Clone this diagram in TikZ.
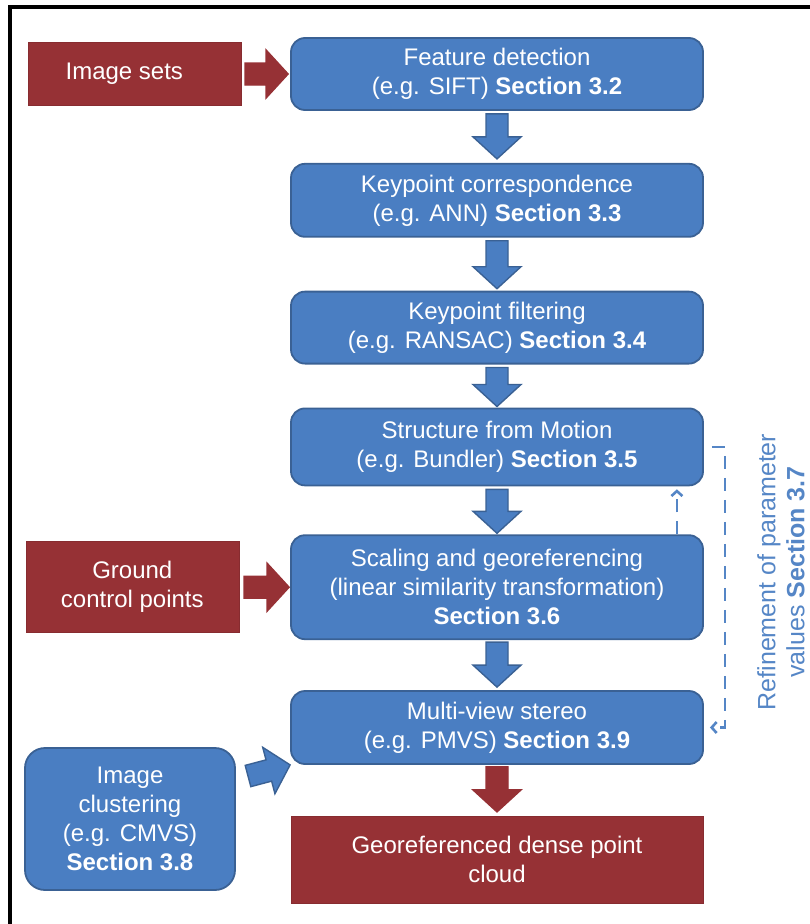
\documentclass[tikz,border=0pt]{standalone}
\usepackage{fontspec}
\setmainfont{Liberation Sans}
\usetikzlibrary{arrows.meta, positioning, calc}
\definecolor{stepblue}{HTML}{4A7EC2}
\definecolor{stepedge}{HTML}{3A6194}
\definecolor{datared}{HTML}{963135}
\definecolor{refineblue}{HTML}{5586C6}
\tikzset{
  stepbox/.style={rectangle, rounded corners=14pt, draw=stepedge, fill=stepblue,
                  line width=1.8pt, text=white, align=center, inner sep=0pt,
                  minimum width=412pt},
  databox/.style={rectangle, draw=datared!90!black, fill=datared, line width=0.6pt,
                  text=white, align=center, inner sep=0pt},
  fatarr/.style={fill=#1, draw=#1!70!black, line width=1.4pt, line join=miter,
    to path={let \p1=(\tikztostart), \p2=(\tikztotarget),
                 \p3=($(\p2)!22pt!(\p1)$) in
      ($(\p1)!11pt!90:(\p2)$) -- ($(\p3)!11pt!-90:(\p1)$)
      -- ($(\p3)!24pt!-90:(\p1)$) -- (\p2) -- ($(\p3)!24pt!90:(\p1)$)
      -- ($(\p3)!11pt!90:(\p1)$) -- ($(\p1)!11pt!-90:(\p2)$) -- cycle}},
  bluearr/.style={fatarr=stepblue, draw=stepedge},
  redarr/.style={fatarr=datared, draw=datared},
  refineline/.style={draw=refineblue, line width=2.6pt, dash pattern=on 13pt off 9pt,
                     -{Straight Barb[length=5pt, width=11pt]}},
}

\begin{document}
\begin{tikzpicture}[x=1pt, y=-1pt, every node/.style={font=\fontsize{24}{29}\selectfont}]
  \useasboundingbox (0,0) rectangle (810,924);
  % outer frame
  \draw[line width=4pt] (10,924) -- (10,7) -- (810,7);

  % main column
  \node[stepbox, minimum height=72pt] (feat) at (497,74)
    {Feature detection\\(e.g. SIFT) \textbf{Section 3.2}};
  \node[stepbox, minimum height=73pt, below=52pt of feat] (kcor)
    {Keypoint correspondence\\(e.g. ANN) \textbf{Section 3.3}};
  \node[stepbox, minimum height=72pt, below=53pt of kcor] (kfilt)
    {Keypoint filtering\\(e.g. RANSAC) \textbf{Section 3.4}};
  \node[stepbox, minimum height=77pt, below=43pt of kfilt] (sfm)
    {Structure from Motion\\(e.g. Bundler) \textbf{Section 3.5}};
  \node[stepbox, minimum height=104pt, below=48pt of sfm] (scal)
    {Scaling and georeferencing\\(linear similarity transformation)\\\textbf{Section 3.6}};
  \node[stepbox, minimum height=73pt, below=50pt of scal] (mvs)
    {Multi-view stereo\\(e.g. PMVS) \textbf{Section 3.9}};
  \node[databox, minimum width=412pt, minimum height=87pt, below=51pt of mvs] (cloud)
    {Georeferenced dense point\\cloud};

  % inputs on the left
  \node[databox, minimum width=213pt, minimum height=63pt, left=49pt of feat] (imgsets)
    {\raisebox{5pt}{Image sets}\hspace*{20pt}};
  \node[databox, minimum width=213pt, minimum height=91pt, left=51pt of scal] (gcp)
    {Ground\\control points};
  \node[stepbox, rounded corners=20pt, minimum width=210pt, minimum height=142pt] (clus)
    at (130,819) {Image\\clustering\\(e.g. CMVS)\\\textbf{Section 3.8}};
  \coordinate (clustail) at (248,776);

  % block arrows
  \draw[bluearr] ([yshift=-3pt]feat.south) to ([yshift=4pt]kcor.north);
  \draw[bluearr] ([yshift=-3pt]kcor.south) to ([yshift=2pt]kfilt.north);
  \draw[bluearr] ([yshift=-3pt]kfilt.south) to ([yshift=1pt]sfm.north);
  \draw[bluearr] ([yshift=-3pt]sfm.south) to ([yshift=1pt]scal.north);
  \draw[bluearr] ([yshift=-2pt]scal.south) to ([yshift=3pt]mvs.north);
  \draw[redarr] ([yshift=-2pt]mvs.south) to ([yshift=4pt]cloud.north);
  \draw[redarr] ([xshift=4pt]imgsets.east) to ([xshift=-2pt]feat.west);
  \draw[redarr] ([xshift=5pt]gcp.east) to ([xshift=-1pt]scal.west);
  \draw[bluearr] (clustail) to (mvs.south west);

  % refinement loop
  \draw[refineline] ([xshift=-27pt]scal.north east) -- ([xshift=-27pt, yshift=-3pt]sfm.south east);
  \draw[refineline] ([xshift=8pt]sfm.east) -- ++(13,0) |- ([xshift=6pt]mvs.east);
  \node[rotate=90, align=center, inner sep=0pt, text=refineblue,
        font=\fontsize{25}{29}\selectfont] (refine) at (781,572)
    {Refinement of parameter\\values \textbf{Section 3.7}};
\end{tikzpicture}
\end{document}
